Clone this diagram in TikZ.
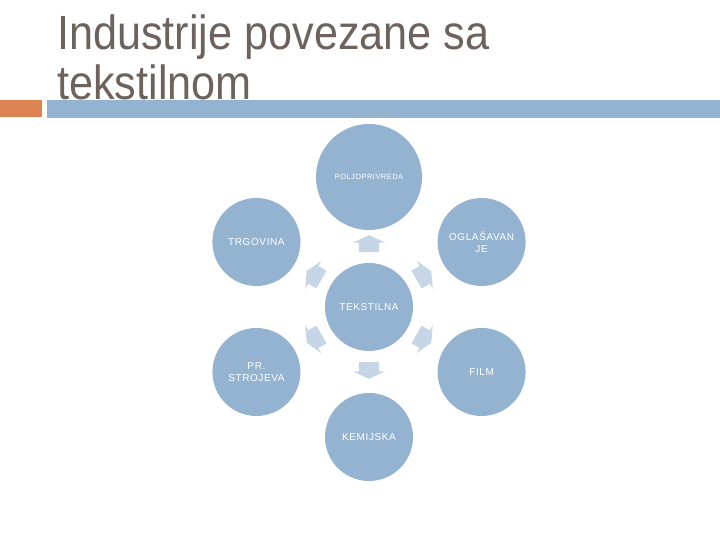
\documentclass[tikz,border=0pt]{standalone}
\usepackage{fontspec}
\setmainfont[LetterSpace=6]{Liberation Sans}
\newfontfamily\titlefont[FakeStretch=0.9]{Liberation Sans}
\usepackage{xcolor}
\usetikzlibrary{shapes,arrows,positioning,calc}
\definecolor{titlegray}{HTML}{6E625C}
\definecolor{barorange}{HTML}{DD8452}
\definecolor{barblue}{HTML}{94B3D1}
\definecolor{circblue}{HTML}{94B3D1}
\definecolor{arrowblue}{HTML}{C6D6E6}

\begin{document}
\begin{tikzpicture}[x=1pt, y=1pt]
  % Define styles
  \tikzstyle{industry} = [circle, fill=circblue, minimum size=88pt, inner sep=0pt, text=white, align=center, font=\fontsize{10}{11.5}\selectfont]
  \tikzstyle{pointer} = [single arrow, fill=arrowblue, minimum height=17pt, minimum width=32pt, single arrow head extend=6pt, single arrow tip angle=130, inner xsep=0pt, inner ysep=10pt]
  \tikzstyle{title} = [anchor=base west, text=titlegray, font=\titlefont\fontsize{48}{50}\selectfont, inner sep=0pt]

  \useasboundingbox (0,0) rectangle (720,540);

  % Title and bars
  \node [title] (line1) at (57,490) {Industrije povezane sa};
  \node [title] (line2) at (57,440) {tekstilnom};
  \fill [barorange] (0,423) rectangle (42,440);
  \fill [barblue] (47,422) rectangle (720,440);

  % Industries
  \node [industry] (tekstilna) at (369,233) {TEKSTILNA};
  \node [industry, minimum size=106pt, font=\fontsize{7.5}{9}\selectfont] (poljoprivreda) at ($(tekstilna)+(90:130)$) {POLJOPRIVREDA};
  \node [industry] (trgovina) at ($(tekstilna)+(150:130)$) {TRGOVINA};
  \node [industry] (oglasavanje) at ($(tekstilna)+(30:130)$) {OGLAŠAVAN\\JE};
  \node [industry] (strojevi) at ($(tekstilna)+(210:130)$) {PR.\\STROJEVA};
  \node [industry] (film) at ($(tekstilna)+(330:130)$) {FILM};
  \node [industry] (kemijska) at ($(tekstilna)+(270:130)$) {KEMIJSKA};

  % Arrows
  \foreach \a in {30,90,...,330}
    \node [pointer, rotate=\a] (ptr\a) at ($(tekstilna)+(\a:61)$) {};

\end{tikzpicture}
\end{document}
